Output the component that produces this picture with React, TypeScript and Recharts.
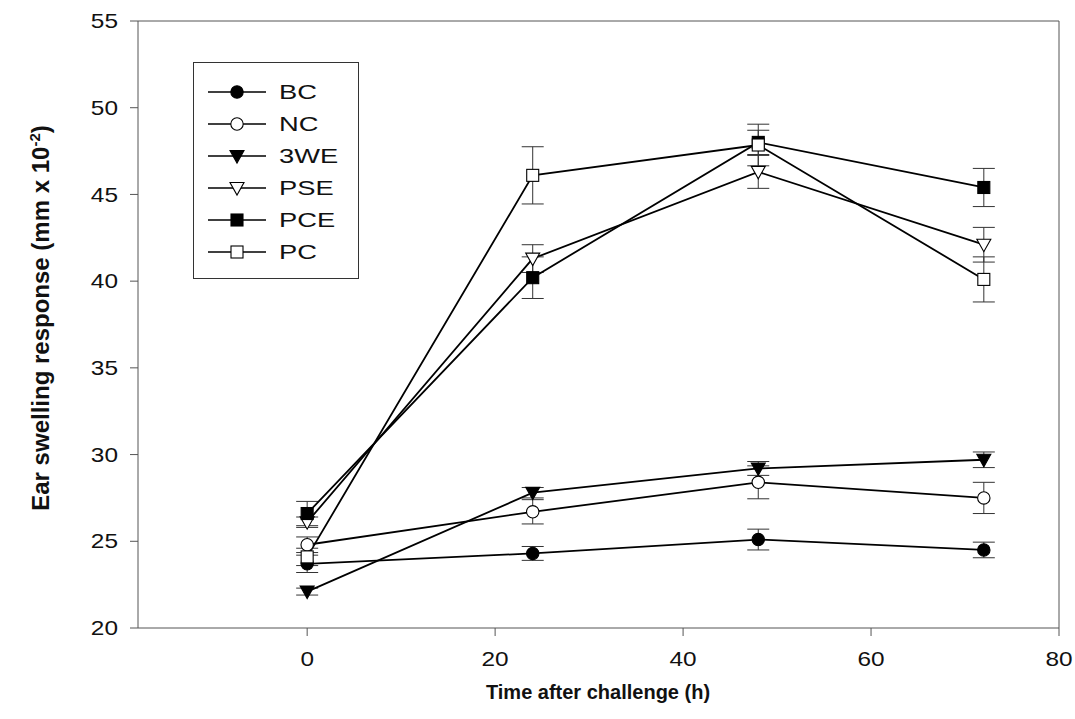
import React from "react";
import { LineChart, Line, XAxis, YAxis, ErrorBar, ReferenceLine } from "recharts";

const times = [0, 24, 48, 72];
const bc = [23.7, 24.3, 25.1, 24.5];
const bcErr = [0.5, 0.4, 0.6, 0.45];
const nc = [24.8, 26.7, 28.4, 27.5];
const ncErr = [0.45, 0.7, 0.95, 0.9];
const we3 = [22.1, 27.8, 29.2, 29.7];
const we3Err = [0.2, 0.3, 0.4, 0.45];
const pse = [26.1, 41.3, 46.3, 42.1];
const pseErr = [0.3, 0.8, 0.95, 1.0];
const pce = [26.6, 40.2, 48.0, 45.4];
const pceErr = [0.7, 1.2, 0.7, 1.1];
const pc = [24.1, 46.1, 47.85, 40.1];
const pcErr = [0.5, 1.65, 1.2, 1.3];

const xTicks = [0, 20, 40, 60, 80];
const yTicks = [20, 25, 30, 35, 40, 45, 50, 55];

type Shape = "circle" | "square" | "triangle";
const series: { key: string; name: string; shape: Shape; filled: boolean; values: number[]; errs: number[] }[] = [
  { key: "bc", name: "BC", shape: "circle", filled: true, values: bc, errs: bcErr },
  { key: "nc", name: "NC", shape: "circle", filled: false, values: nc, errs: ncErr },
  { key: "we3", name: "3WE", shape: "triangle", filled: true, values: we3, errs: we3Err },
  { key: "pse", name: "PSE", shape: "triangle", filled: false, values: pse, errs: pseErr },
  { key: "pce", name: "PCE", shape: "square", filled: true, values: pce, errs: pceErr },
  { key: "pc", name: "PC", shape: "square", filled: false, values: pc, errs: pcErr },
];

const data = times.map((t, i) => {
  const row: Record<string, number> = { t };
  series.forEach((s) => {
    row[s.key] = s.values[i];
    row[s.key + "Err"] = s.errs[i];
  });
  return row;
});

function Marker({ cx, cy, shape, filled }: { cx: number; cy: number; shape: Shape; filled: boolean }) {
  const fill = filled ? "#000" : "#fff";
  const stroke = "#000";
  if (shape === "circle") return <circle cx={cx} cy={cy} r={6.2} fill={fill} stroke={stroke} strokeWidth={1.1} />;
  if (shape === "square")
    return <rect x={cx - 6} y={cy - 6} width={12} height={12} fill={fill} stroke={stroke} strokeWidth={1.1} />;
  return (
    <polygon
      points={`${cx - 7},${cy - 5.5} ${cx + 7},${cy - 5.5} ${cx},${cy + 7}`}
      fill={fill}
      stroke={stroke}
      strokeWidth={1.1}
    />
  );
}

const FONT = "'Liberation Sans', Arial, sans-serif";
const STRETCH = 1.22;
const LEG_STRETCH = 1.3;

function XTick(props: any) {
  const { x, y, payload } = props;
  return (
    <g transform={`translate(${x},${y})`}>
      <text
        x={0}
        y={0}
        dy="0.71em"
        textAnchor="middle"
        transform={`scale(${STRETCH},1)`}
        fill="#111"
        fontSize={20}
        fontFamily={FONT}
      >
        {payload.value}
      </text>
    </g>
  );
}

function YTick(props: any) {
  const { x, y, payload } = props;
  return (
    <g transform={`translate(${x},${y})`}>
      <text
        x={0}
        y={0}
        dy="0.36em"
        textAnchor="end"
        transform={`scale(${STRETCH},1)`}
        fill="#111"
        fontSize={20}
        fontFamily={FONT}
      >
        {payload.value}
      </text>
    </g>
  );
}

export default function App() {
  return (
    <div style={{ position: "absolute", left: 0, top: 0, width: 1075, height: 719, background: "#fff", fontFamily: FONT }}>
      <LineChart
        width={1075}
        height={719}
        data={data}
        margin={{ top: 21, right: 16, bottom: 31, left: 78 }}
      >
        <XAxis
          dataKey="t"
          type="number"
          domain={[-18, 80]}
          ticks={xTicks}
          allowDataOverflow
          height={60}
          tickSize={8}
          tickMargin={16}
          stroke="#555"
          tick={<XTick />}
        />
        <YAxis
          type="number"
          domain={[20, 55]}
          ticks={yTicks}
          allowDataOverflow
          width={60}
          tickSize={8}
          tickMargin={12}
          stroke="#555"
          tick={<YTick />}
        />
        <ReferenceLine y={55} stroke="#555" strokeWidth={1} />
        <ReferenceLine x={80} stroke="#555" strokeWidth={1} />
        {series.map((s) => (
          <Line
            key={s.key}
            dataKey={s.key}
            name={s.name}
            stroke="#000"
            strokeWidth={1.8}
            isAnimationActive={false}
            activeDot={false}
            dot={(p: any) => (
              <Marker key={`${s.key}-${p.index}`} cx={p.cx} cy={p.cy} shape={s.shape} filled={s.filled} />
            )}
          >
            <ErrorBar dataKey={s.key + "Err"} width={11} stroke="#333" strokeWidth={1} direction="y" />
          </Line>
        ))}
      </LineChart>

      <div
        style={{
          position: "absolute",
          left: 193,
          top: 62,
          width: 166,
          height: 217,
          border: "1px solid #333",
          background: "#fff",
          boxSizing: "border-box",
        }}
      >
        {series.map((s, i) => (
          <div key={s.key} style={{ position: "absolute", left: 0, top: 16 + i * 32, height: 26, width: 165 }}>
            <svg width={70} height={26} style={{ position: "absolute", left: 12, top: 0 }}>
              <line x1={2} y1={13} x2={60} y2={13} stroke="#000" strokeWidth={1.3} />
              <Marker cx={31} cy={13} shape={s.shape} filled={s.filled} />
            </svg>
            <span
              style={{
                position: "absolute",
                left: 85,
                top: 0,
                lineHeight: "26px",
                fontSize: 21,
                color: "#111",
                fontFamily: FONT,
                transform: `scale(${LEG_STRETCH},1)`,
                transformOrigin: "0 50%",
                whiteSpace: "nowrap",
              }}
            >
              {s.name}
            </span>
          </div>
        ))}
      </div>

      <div
        style={{
          position: "absolute",
          left: 598,
          top: 692,
          transform: "translate(-50%, -50%)",
          fontSize: 20,
          fontWeight: "bold",
          whiteSpace: "nowrap",
          color: "#111",
        }}
      >
        Time after challenge (h)
      </div>
      <div
        style={{
          position: "absolute",
          left: 40,
          top: 318,
          transform: "translate(-50%, -50%) rotate(-90deg)",
          fontSize: 24,
          fontWeight: "bold",
          whiteSpace: "nowrap",
          color: "#111",
        }}
      >
        Ear swelling response (mm x 10<sup style={{ fontSize: 15 }}>-2</sup>)
      </div>
    </div>
  );
}
